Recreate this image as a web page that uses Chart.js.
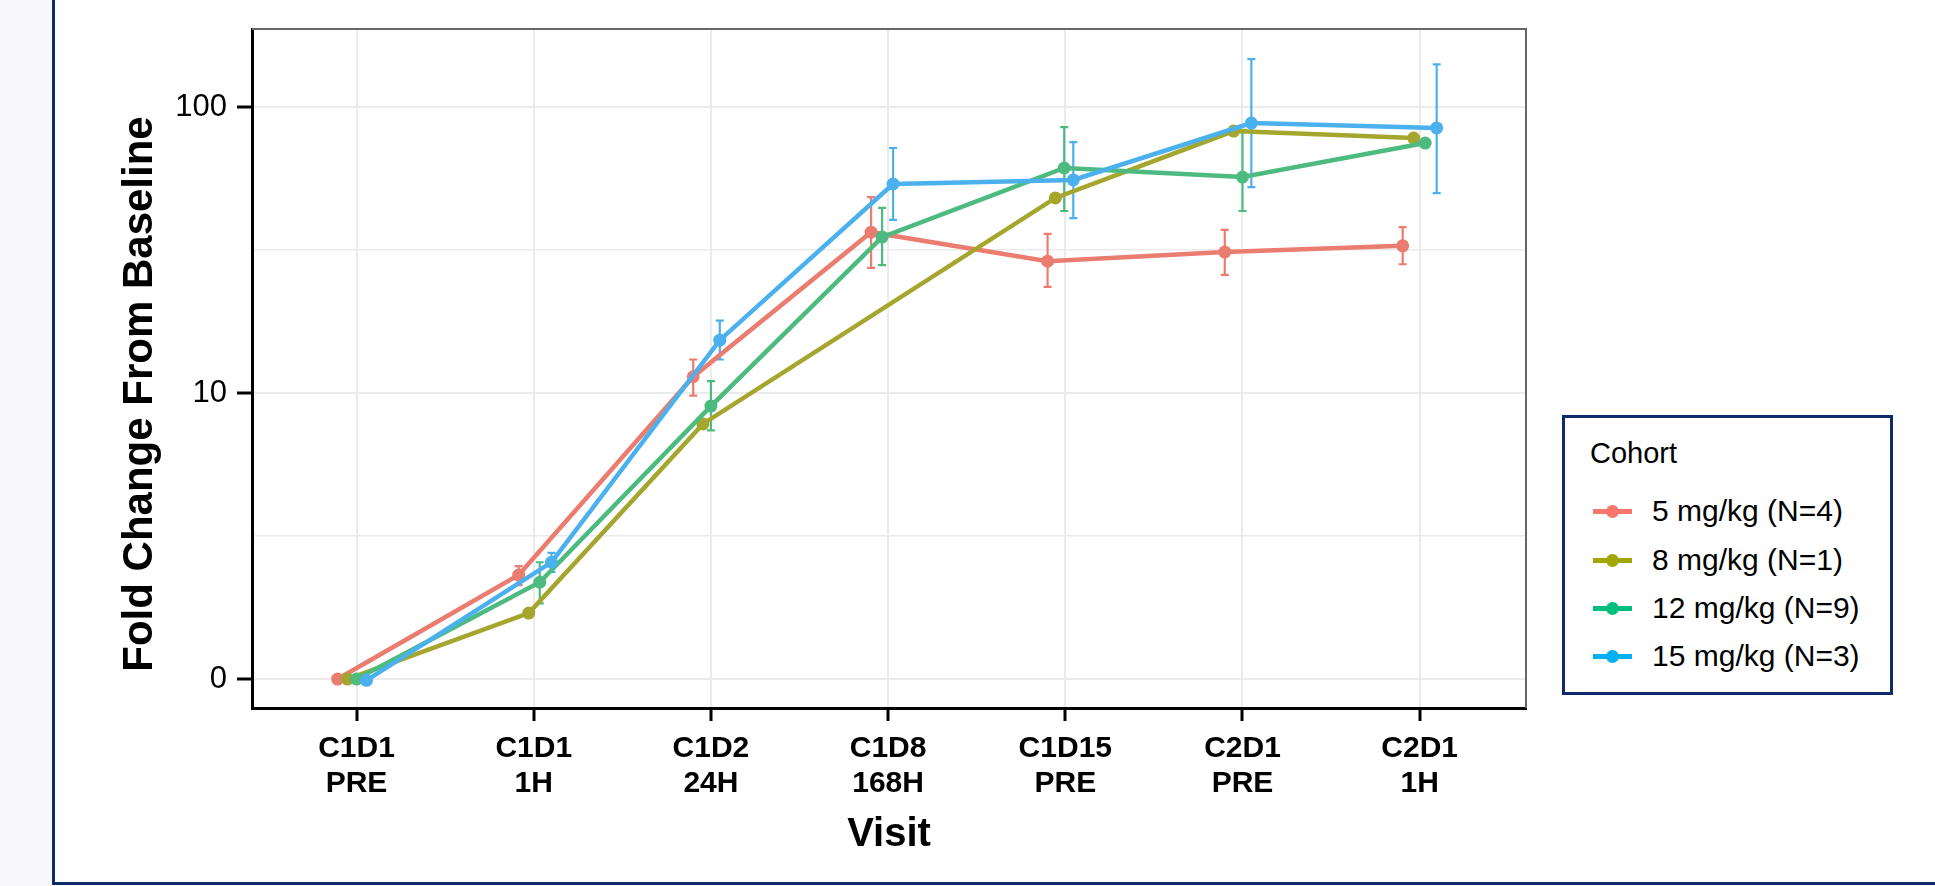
<!DOCTYPE html>
<html>
<head>
<meta charset="utf-8">
<script src="https://cdn.jsdelivr.net/npm/chart.js@4.4.1/dist/chart.umd.min.js"></script>
<style>
  html, body { margin: 0; padding: 0; }
  body {
    width: 1935px; height: 886px; position: relative; overflow: hidden;
    background: #f8f8fc; font-family: "Liberation Sans", Arial, sans-serif;
  }
  #frame {
    position: absolute; left: 52px; top: -10px; width: 2000px; height: 895px;
    box-sizing: border-box; border: 3px solid #0d2b6b; background: #fff;
  }
  #chart { position: absolute; left: 0; top: 0; }
  #legend {
    position: absolute; left: 1562px; top: 415px; width: 331px; height: 280px;
    box-sizing: border-box; border: 3px solid #0d2b6b; background: #fff; color: #000;
  }
  #legend .title { position: absolute; left: 25px; top: 20px; font-size: 29px; line-height: 30px; }
  #legend .row { position: absolute; left: 28px; height: 30px; display: flex; align-items: center; }
  #legend .key { position: relative; width: 39px; height: 30px; }
  #legend .key .ln { position: absolute; left: 0; right: 0; top: 13px; height: 5px; }
  #legend .key .dot { position: absolute; left: 13px; top: 9px; width: 13px; height: 13px; border-radius: 50%; }
  #legend .txt { margin-left: 20px; font-size: 30px; line-height: 30px; white-space: nowrap; }
</style>
</head>
<body>
<div id="frame"></div>
<canvas id="chart" width="1935" height="886"></canvas>
<div id="legend"><div class="title">Cohort</div></div>
<script>
const visits = [["C1D1", "PRE"], ["C1D1", "1H"], ["C1D2", "24H"], ["C1D8", "168H"], ["C1D15", "PRE"], ["C2D1", "PRE"], ["C2D1", "1H"]];
const cohorts = ["5 mg/kg (N=4)", "8 mg/kg (N=1)", "12 mg/kg (N=9)", "15 mg/kg (N=3)"];

// fold change from baseline per visit, with error bar ends (null = none)
const fc5 = [1.0, 2.31, 11.4, 36.5, 28.9, 31.1, 32.7];
const lo5 = [null, 2.13, 9.8, 27.4, 23.5, 25.9, 28.2];
const hi5 = [null, 2.48, 13.1, 48.4, 36.0, 37.2, 38.0];

const fc8 = [1.0, 1.70, 7.8, null, 48.1, 82.4, 77.9];

const fc12 = [1.0, 2.18, 9.0, 35.1, 61.2, 56.9, 74.8];
const lo12 = [null, 1.84, 7.4, 28.0, 43.3, 43.3, null];
const hi12 = [null, 2.56, 11.0, 44.4, 85.1, 83.2, null];

const fc15 = [0.99, 2.56, 15.3, 53.8, 55.6, 87.9, 84.5];
const lo15 = [null, 2.37, 13.1, 40.3, 40.9, 52.5, 50.0];
const hi15 = [null, 2.76, 17.9, 71.9, 75.4, 147, 141];

// position dodge of each cohort around the visit, in visit units
const dodge5 = [-0.107, -0.085, -0.10, -0.096, -0.10, -0.10, -0.096];
const dodge8 = [-0.051, -0.028, -0.045, 0, -0.056, -0.05, -0.034];
const dodge12 = [0, 0.034, 0, -0.034, -0.006, 0, 0.031];
const dodge15 = [0.056, 0.10, 0.05, 0.028, 0.045, 0.05, 0.096];

const yTickValues = [1, 10, 100];
const yTickLabels = ["0", "10", "100"];

const colors = ["#EB7C70", "#A5A62E", "#4DBB80", "#4BB1EE"];
const legendColors = ["#F8766D", "#A3A500", "#00BF7D", "#00B0F6"];

const series = [
  { fc: fc5, lo: lo5, hi: hi5, dodge: dodge5 },
  { fc: fc8, lo: null, hi: null, dodge: dodge8 },
  { fc: fc12, lo: lo12, hi: hi12, dodge: dodge12 },
  { fc: fc15, lo: lo15, hi: hi15, dodge: dodge15 },
];

// major decades plus a minor line half way (log) between them
const yGrid = [];
yTickValues.forEach((v, i) => {
  yGrid.push(v);
  if (i < yTickValues.length - 1) yGrid.push(v * Math.sqrt(10));
});
const isMajor = (v) => yTickValues.some((t) => Math.abs(t - v) < 1e-9);

Chart.defaults.font.family = '"Liberation Sans", Arial, sans-serif';
Chart.defaults.color = "#000";

const datasets = series.map((s, k) => ({
  label: cohorts[k],
  data: s.fc
    .map((v, i) => (v == null ? null : { x: i + s.dodge[i], y: v }))
    .filter((p) => p),
  borderColor: colors[k],
  backgroundColor: colors[k],
  pointBackgroundColor: colors[k],
  borderWidth: 4.5,
  pointRadius: 6.5,
  pointHoverRadius: 6.5,
  pointBorderWidth: 0,
  tension: 0,
  order: series.length - 1 - k,
}));

const extras = {
  id: "extras",
  beforeDatasetsDraw(chart) {
    const { ctx } = chart;
    const xs = chart.scales.x;
    const ys = chart.scales.y;
    ctx.save();
    ctx.lineWidth = 2.2;
    series.forEach((s, k) => {
      if (!s.lo) return;
      ctx.strokeStyle = colors[k];
      s.fc.forEach((v, i) => {
        if (s.lo[i] == null) return;
        const x = xs.getPixelForValue(i + s.dodge[i]);
        const y1 = ys.getPixelForValue(s.lo[i]);
        const y2 = ys.getPixelForValue(s.hi[i]);
        ctx.beginPath();
        ctx.moveTo(x, y1);
        ctx.lineTo(x, y2);
        ctx.moveTo(x - 4, y1);
        ctx.lineTo(x + 4, y1);
        ctx.moveTo(x - 4, y2);
        ctx.lineTo(x + 4, y2);
        ctx.stroke();
      });
    });
    ctx.restore();
  },
  afterDraw(chart) {
    const { ctx, chartArea: a } = chart;
    ctx.save();
    // panel border on top and right
    ctx.strokeStyle = "#666";
    ctx.lineWidth = 2;
    ctx.beginPath();
    ctx.moveTo(a.left, a.top);
    ctx.lineTo(a.right, a.top);
    ctx.lineTo(a.right, a.bottom);
    ctx.stroke();

    ctx.fillStyle = "#000";
    ctx.font = 'bold 40px "Liberation Sans", Arial, sans-serif';
    ctx.textAlign = "center";
    ctx.textBaseline = "middle";
    ctx.fillText("Visit", (a.left + a.right) / 2, 835);

    ctx.font = 'bold 42px "Liberation Sans", Arial, sans-serif';
    ctx.translate(140, 394);
    ctx.rotate(-Math.PI / 2);
    ctx.fillText("Fold Change From Baseline", 0, 0);
    ctx.restore();
  },
};

new Chart(document.getElementById("chart"), {
  type: "line",
  data: { datasets: datasets },
  options: {
    responsive: false,
    animation: false,
    layout: { padding: { left: 132, top: 29, right: 409, bottom: 78 } },
    plugins: { legend: { display: false }, tooltip: { enabled: false } },
    scales: {
      x: {
        type: "linear",
        min: -0.59,
        max: 6.6,
        bounds: "data",
        afterBuildTicks: (s) => {
          s.ticks = visits.map((_, i) => ({ value: i }));
        },
        afterFit: (s) => {
          s.height = 100;
        },
        ticks: {
          autoSkip: false,
          maxRotation: 0,
          padding: 10,
          color: "#000",
          font: { size: 30, weight: "bold", lineHeight: 1.18 },
          callback: (v) => visits[v],
        },
        grid: {
          color: "#ebebeb",
          lineWidth: 2,
          tickColor: "#000",
          tickWidth: 3,
          tickLength: 13,
        },
        border: { color: "#000", width: 3 },
      },
      y: {
        type: "logarithmic",
        min: 0.792,
        max: 187.4,
        bounds: "data",
        afterBuildTicks: (s) => {
          s.ticks = yGrid.map((v) => ({ value: v }));
        },
        afterFit: (s) => {
          s.width = 120;
        },
        ticks: {
          autoSkip: false,
          padding: 10,
          color: "#000",
          font: { size: 31 },
          callback: (v) => {
            const i = yTickValues.findIndex((t) => Math.abs(t - v) < 1e-9);
            return i < 0 ? "" : yTickLabels[i];
          },
        },
        grid: {
          color: "#ebebeb",
          lineWidth: (c) => (c.tick && isMajor(c.tick.value) ? 2 : 1.5),
          tickColor: (c) => (c.tick && isMajor(c.tick.value) ? "#000" : "rgba(0,0,0,0)"),
          tickWidth: 3,
          tickLength: 15,
        },
        border: { color: "#000", width: 3 },
      },
    },
  },
  plugins: [extras],
});

// legend
const legend = document.getElementById("legend");
const rowCenters = [93, 142, 190, 238];
cohorts.forEach((name, k) => {
  const row = document.createElement("div");
  row.className = "row";
  row.style.top = rowCenters[k] - 15 + "px";
  row.innerHTML =
    '<div class="key"><div class="ln" style="background:' + legendColors[k] + '"></div>' +
    '<div class="dot" style="background:' + legendColors[k] + '"></div></div>' +
    '<div class="txt">' + name + "</div>";
  legend.appendChild(row);
});
</script>
</body>
</html>
